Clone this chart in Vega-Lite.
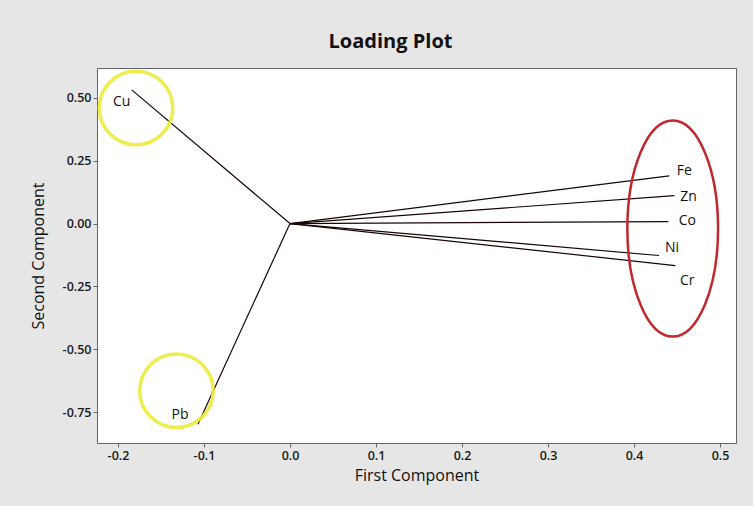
{
  "$schema": "https://vega.github.io/schema/vega-lite/v6.json",
  "width": 639,
  "height": 375,
  "autosize": {"type": "none"},
  "padding": {"left": 97, "top": 68, "right": 17, "bottom": 63},
  "background": "#e6e6e6",
  "title": {
    "text": "Loading Plot",
    "font": "Open Sans",
    "fontSize": 20,
    "fontWeight": "bold",
    "color": "#111111",
    "offset": 12,
    "dx": -26
  },
  "config": {
    "view": {"fill": "white", "stroke": "#666666", "strokeWidth": 1},
    "axis": {
      "grid": false,
      "domain": false,
      "tickColor": "#666666",
      "tickSize": 4,
      "labelFont": "Open Sans",
      "labelFontSize": 12.5,
      "labelFontWeight": 600,
      "labelColor": "#1a1a1a",
      "titleFont": "Open Sans",
      "titleFontSize": 16,
      "titleFontWeight": "normal",
      "titleColor": "#111111"
    }
  },
  "datasets": {
    "loadings": [
      {"element": "Cu", "pc1": -0.184, "pc2": 0.532},
      {"element": "Pb", "pc1": -0.107, "pc2": -0.798},
      {"element": "Fe", "pc1": 0.441, "pc2": 0.19},
      {"element": "Zn", "pc1": 0.447, "pc2": 0.111},
      {"element": "Co", "pc1": 0.440, "pc2": 0.008},
      {"element": "Ni", "pc1": 0.429, "pc2": -0.127},
      {"element": "Cr", "pc1": 0.448, "pc2": -0.167}
    ],
    "rings": [
      {"group": "Cu", "cx": -0.179, "cy": 0.46},
      {"group": "Pb", "cx": -0.132, "cy": -0.665}
    ],
    "oval": [
      {"group": "Fe-Zn-Co-Ni-Cr", "cx": 0.445, "cy": -0.02}
    ]
  },
  "layer": [
    {
      "data": {"name": "loadings"},
      "mark": {"type": "rule", "color": "#1a0505", "strokeWidth": 1.2},
      "encoding": {
        "x": {"field": "pc1", "type": "quantitative",
          "scale": {"domain": [-0.2244, 0.5186], "nice": false, "zero": false},
          "axis": {"title": "First Component", "values": [-0.2, -0.1, 0, 0.1, 0.2, 0.3, 0.4, 0.5], "labelExpr": "replace(format(datum.value, '.1f'), '\u2212', '-')", "titlePadding": 6}},
        "y": {"field": "pc2", "type": "quantitative",
          "scale": {"domain": [-0.873, 0.619], "nice": false, "zero": false},
          "axis": {"title": "Second Component", "values": [-0.75, -0.5, -0.25, 0, 0.25, 0.5], "labelExpr": "replace(format(datum.value, '.2f'), '\u2212', '-')", "titlePadding": 16}},
        "x2": {"datum": 0},
        "y2": {"datum": 0}
      }
    },
    {
      "data": {"name": "rings"},
      "mark": {"type": "point", "shape": "circle", "filled": false, "stroke": "#ecec3a", "strokeWidth": 3.5, "opacity": 0.9, "size": 5400},
      "encoding": {
        "x": {"field": "cx", "type": "quantitative"},
        "y": {"field": "cy", "type": "quantitative"}
      }
    },
    {
      "data": {"name": "oval"},
      "mark": {"type": "point", "shape": "M0,-1 A0.42,1 0 1,1 0,1 A0.42,1 0 1,1 0,-1 Z", "filled": false, "stroke": "#c0282d", "strokeWidth": 2.5, "opacity": 1, "size": 46656},
      "encoding": {
        "x": {"field": "cx", "type": "quantitative"},
        "y": {"field": "cy", "type": "quantitative"}
      }
    },
    {"data": {"name": "loadings"}, "transform": [{"filter": "datum.element === 'Cu'"}],
      "mark": {"type": "text", "font": "Open Sans", "fontSize": 14, "color": "#111111", "dx": -10, "dy": 12},
      "encoding": {"x": {"field": "pc1", "type": "quantitative"}, "y": {"field": "pc2", "type": "quantitative"}, "text": {"field": "element"}}},
    {"data": {"name": "loadings"}, "transform": [{"filter": "datum.element === 'Pb'"}],
      "mark": {"type": "text", "font": "Open Sans", "fontSize": 14, "color": "#111111", "dx": -18, "dy": -9},
      "encoding": {"x": {"field": "pc1", "type": "quantitative"}, "y": {"field": "pc2", "type": "quantitative"}, "text": {"field": "element"}}},
    {"data": {"name": "loadings"}, "transform": [{"filter": "datum.element === 'Fe'"}],
      "mark": {"type": "text", "font": "Open Sans", "fontSize": 14, "color": "#111111", "dx": 15, "dy": -5},
      "encoding": {"x": {"field": "pc1", "type": "quantitative"}, "y": {"field": "pc2", "type": "quantitative"}, "text": {"field": "element"}}},
    {"data": {"name": "loadings"}, "transform": [{"filter": "datum.element === 'Zn'"}],
      "mark": {"type": "text", "font": "Open Sans", "fontSize": 14, "color": "#111111", "dx": 14, "dy": 1},
      "encoding": {"x": {"field": "pc1", "type": "quantitative"}, "y": {"field": "pc2", "type": "quantitative"}, "text": {"field": "element"}}},
    {"data": {"name": "loadings"}, "transform": [{"filter": "datum.element === 'Co'"}],
      "mark": {"type": "text", "font": "Open Sans", "fontSize": 14, "color": "#111111", "dx": 19, "dy": -1},
      "encoding": {"x": {"field": "pc1", "type": "quantitative"}, "y": {"field": "pc2", "type": "quantitative"}, "text": {"field": "element"}}},
    {"data": {"name": "loadings"}, "transform": [{"filter": "datum.element === 'Ni'"}],
      "mark": {"type": "text", "font": "Open Sans", "fontSize": 14, "color": "#111111", "dx": 13, "dy": -8},
      "encoding": {"x": {"field": "pc1", "type": "quantitative"}, "y": {"field": "pc2", "type": "quantitative"}, "text": {"field": "element"}}},
    {"data": {"name": "loadings"}, "transform": [{"filter": "datum.element === 'Cr'"}],
      "mark": {"type": "text", "font": "Open Sans", "fontSize": 14, "color": "#111111", "dx": 12, "dy": 15},
      "encoding": {"x": {"field": "pc1", "type": "quantitative"}, "y": {"field": "pc2", "type": "quantitative"}, "text": {"field": "element"}}}
  ]
}
